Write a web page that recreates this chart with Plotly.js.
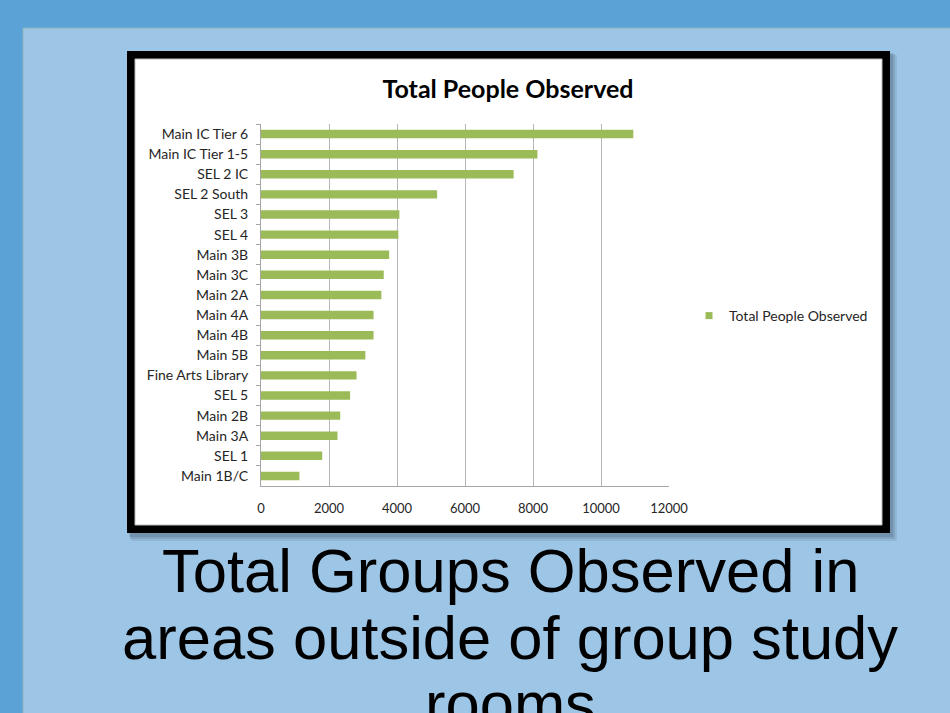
<!DOCTYPE html>
<html>
<head>
<meta charset="utf-8">
<script src="https://cdn.plot.ly/plotly-3.0.1.min.js"></script>
<style>
  html, body { margin: 0; padding: 0; background: #5BA3D6; }
  #chart { width: 950px; height: 713px; }
</style>
</head>
<body>
<div id="chart"></div>
<script>
// ---- data ----
const categories = [
  "Main IC Tier 6", "Main IC Tier 1-5", "SEL 2 IC", "SEL 2 South", "SEL 3", "SEL 4",
  "Main 3B", "Main 3C", "Main 2A", "Main 4A", "Main 4B", "Main 5B",
  "Fine Arts Library", "SEL 5", "Main 2B", "Main 3A", "SEL 1", "Main 1B/C"
];
const totalPeople = [
  10950, 8130, 7430, 5180, 4070, 4040,
  3770, 3610, 3540, 3310, 3310, 3070,
  2810, 2620, 2330, 2250, 1800, 1130
];
const xTicks = [0, 2000, 4000, 6000, 8000, 10000, 12000];
const seriesName = "Total People Observed";
const chartTitle = "Total People Observed";
const captionLines = ["Total Groups Observed in", "areas outside of group study", "rooms"];

// ---- layout helpers (pixel -> paper coords) ----
const W = 950, H = 713;
const PL = 261, PR = 669, PT = 124, PB = 486;
const px = v => (v - PL) / (PR - PL);
const py = v => 1 - (v - PT) / (PB - PT);

function rect(x0, y0, x1, y1, fill, line, lw) {
  return {
    type: "rect", xref: "paper", yref: "paper", layer: "below",
    x0: px(x0), x1: px(x1), y0: py(y1), y1: py(y0),
    fillcolor: fill, line: { color: line || "rgba(0,0,0,0)", width: lw || 0 }
  };
}

const shapes = [
  // inner slide panel
  rect(23, 28, 952, 715, "#9DC5E6", "#8FB3BF", 1),
  // chart picture shadow
  rect(131, 55, 897, 541, "rgba(40,60,80,0.10)"),
  rect(130, 54, 895, 539, "rgba(40,60,80,0.14)"),
  rect(129, 53, 893, 537, "rgba(40,60,80,0.18)"),
  // black frame
  rect(127, 51, 890, 533, "#000000"),
  // white chart area
  rect(135, 59, 882, 525, "#FFFFFF", "#BDBDBD", 1)
];

const captionY = [570, 637, 703];
const annotations = captionLines.map((t, i) => ({
  text: t, showarrow: false,
  xref: "paper", yref: "paper",
  x: px(510), y: py(captionY[i]),
  xanchor: "center", yanchor: "middle",
  font: { family: "Liberation Sans, Arial, sans-serif", size: 61.5, color: "#000000" }
}));

const traces = [
  {
    type: "bar", orientation: "h",
    y: categories, x: totalPeople,
    name: seriesName,
    marker: { color: "#9BBB59" },
    showlegend: false,
    hoverinfo: "x+y"
  },
  {
    type: "scatter", mode: "markers",
    x: [null], y: [null],
    name: seriesName,
    marker: { symbol: "square", size: 7, color: "#9BBB59" },
    showlegend: true
  }
];

const layout = {
  width: W, height: H,
  margin: { l: PL, r: W - PR, t: PT, b: H - PB, pad: 0 },
  paper_bgcolor: "#5BA3D6",
  plot_bgcolor: "rgba(0,0,0,0)",
  bargap: 0.58,
  title: {
    text: "<b>" + chartTitle + "</b>",
    xref: "container", yref: "container",
    x: 508 / W, y: 1 - 89 / H, xanchor: "center", yanchor: "middle",
    font: { family: "Lato, sans-serif", size: 25, color: "#000000" }
  },
  xaxis: {
    range: [0, 12000],
    tickmode: "array", tickvals: xTicks, ticktext: xTicks.map(String),
    showgrid: true, gridcolor: "#B7B7B7", gridwidth: 1,
    zeroline: false,
    showline: true, linecolor: "#A6A6A6", linewidth: 1,
    ticks: "", ticklabelstandoff: 10,
    tickfont: { family: "Lato, sans-serif", size: 13, color: "#262626" },
    fixedrange: true
  },
  yaxis: {
    type: "category",
    categoryorder: "array", categoryarray: categories,
    autorange: "reversed",
    showgrid: false, zeroline: false,
    showline: true, linecolor: "#A6A6A6", linewidth: 1,
    ticks: "outside", tickson: "boundaries", ticklen: 4, tickcolor: "#A6A6A6",
    ticklabelstandoff: 9,
    tickfont: { family: "Lato, sans-serif", size: 14, color: "#262626" },
    fixedrange: true
  },
  legend: {
    x: px(689), y: py(316), xanchor: "left", yanchor: "middle",
    bgcolor: "rgba(0,0,0,0)",
    font: { family: "Lato, sans-serif", size: 14, color: "#262626" },
    itemwidth: 30
  },
  shapes: shapes,
  annotations: annotations
};

Plotly.newPlot("chart", traces, layout, { displayModeBar: false, staticPlot: true });
</script>
</body>
</html>
